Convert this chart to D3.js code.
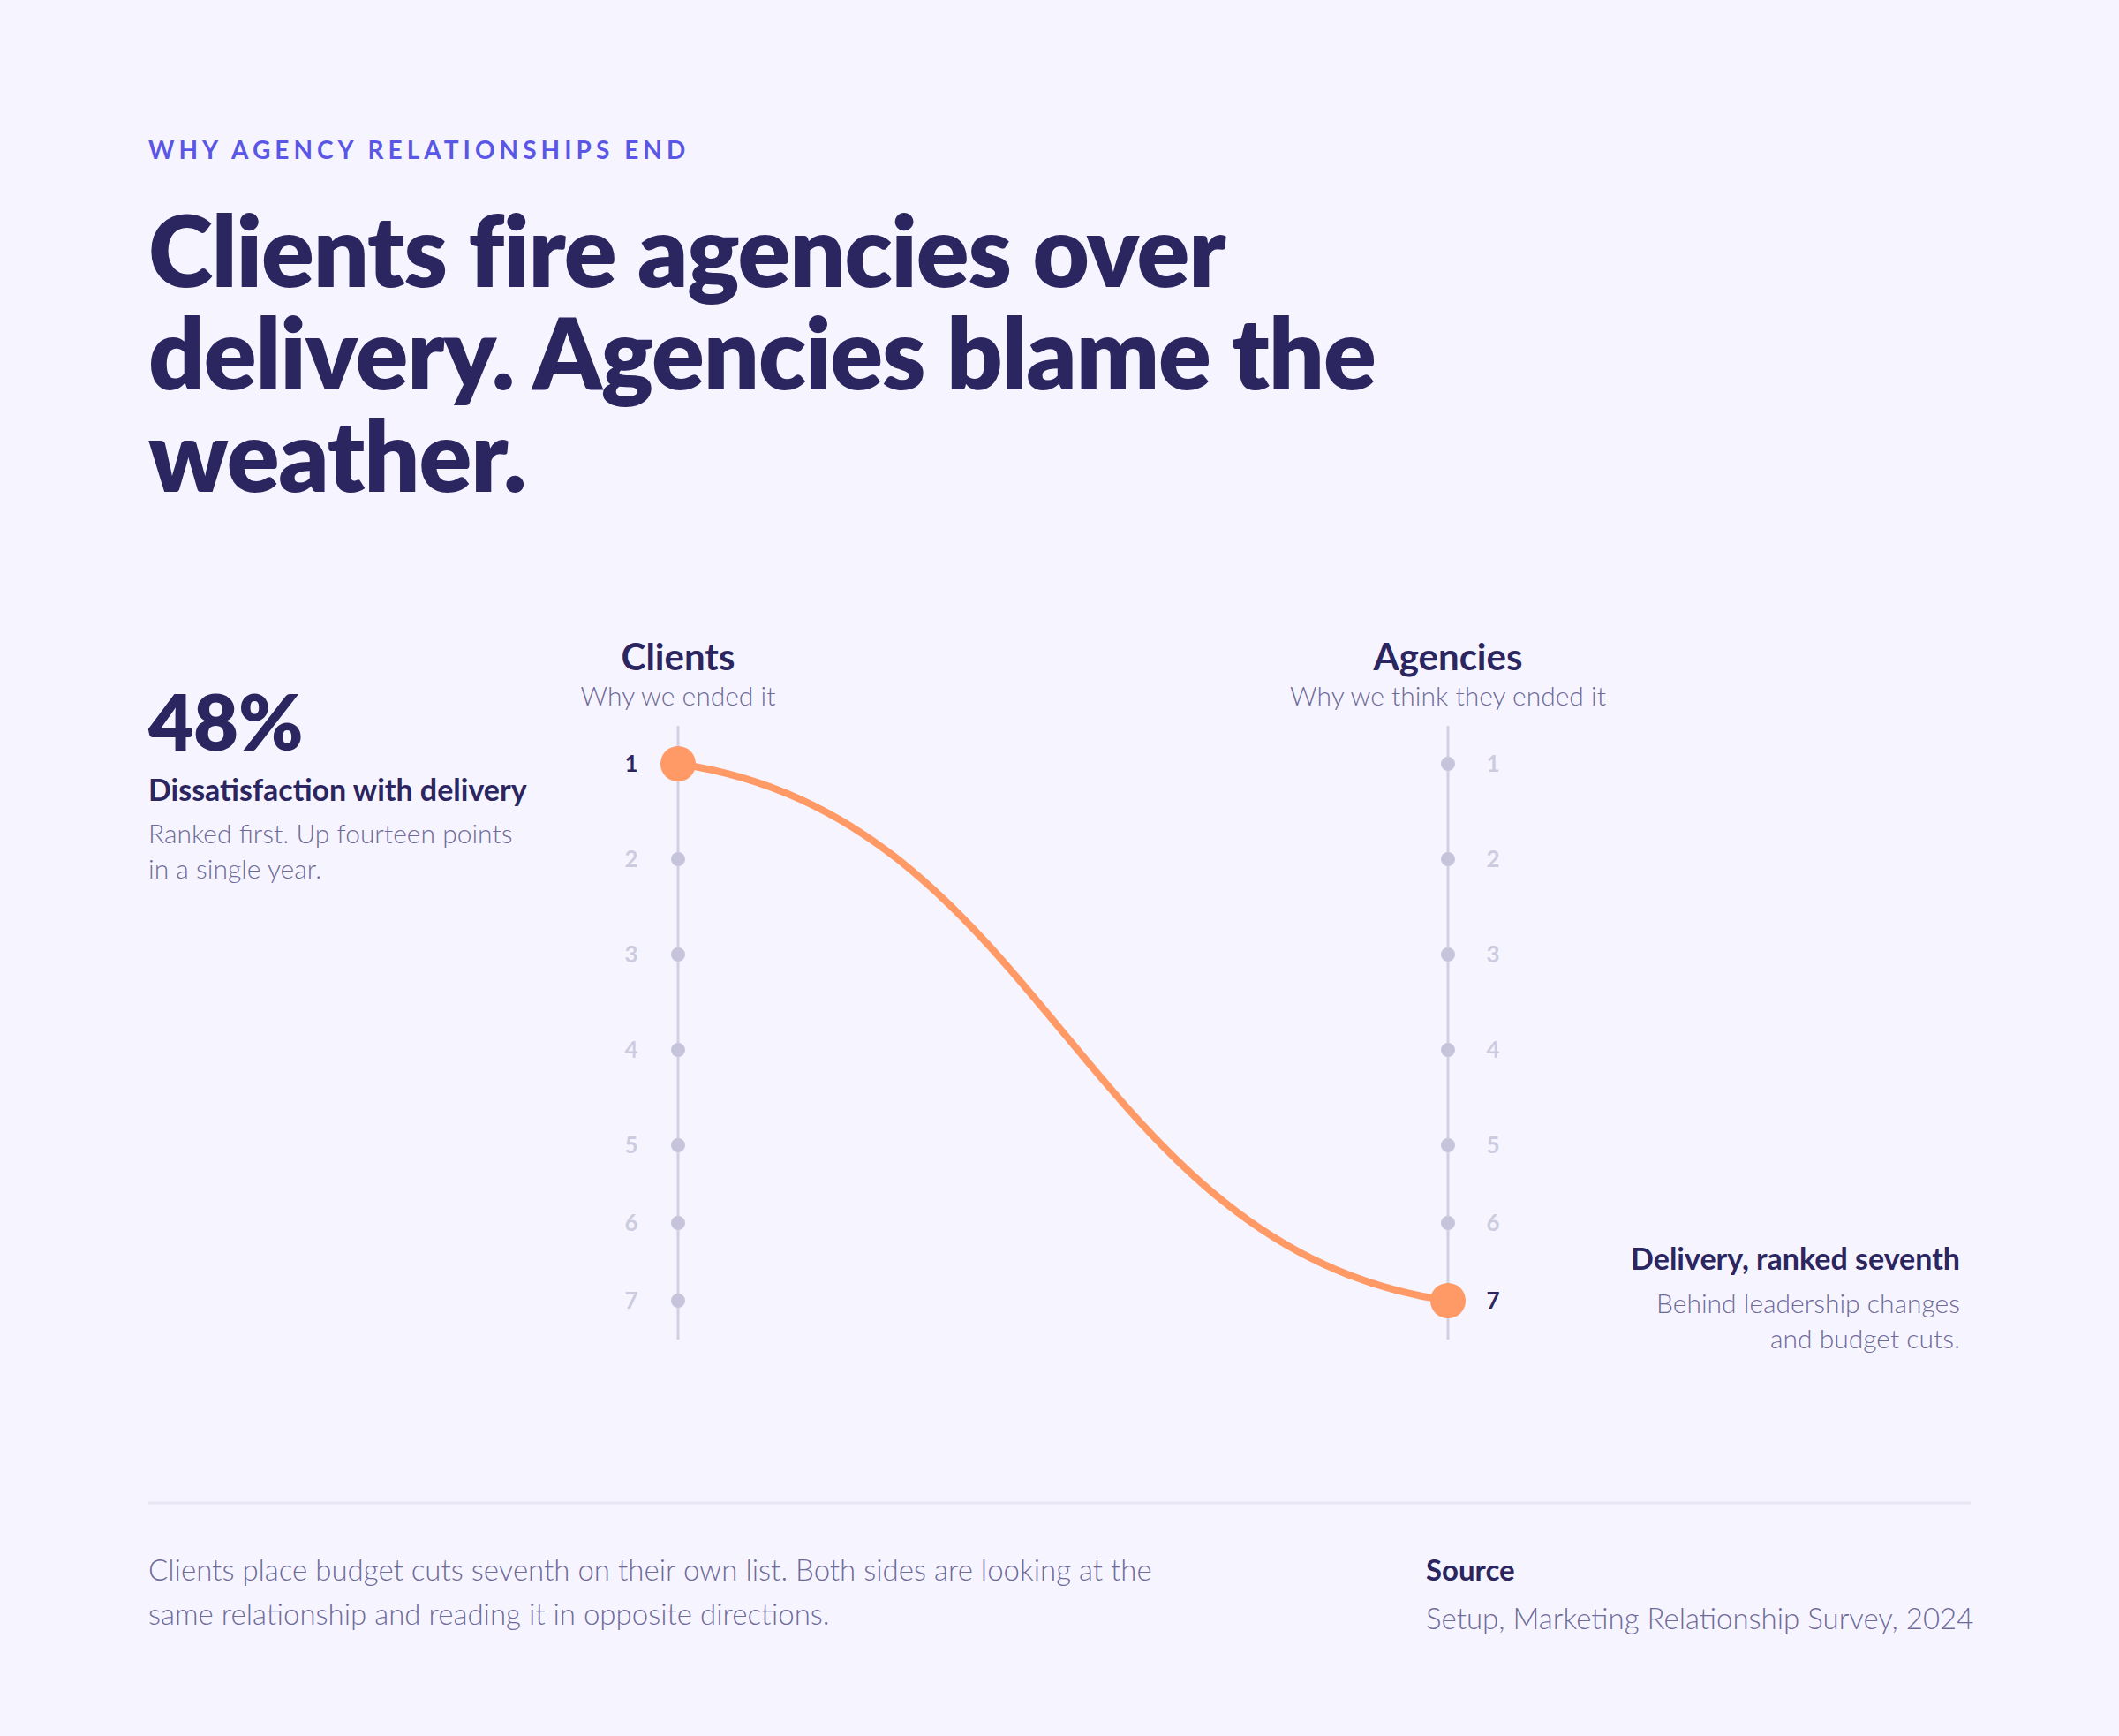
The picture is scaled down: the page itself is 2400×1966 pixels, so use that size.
<!DOCTYPE html>
<html>
<head>
<meta charset="utf-8">
<script src="https://cdn.jsdelivr.net/npm/d3@7"></script>
<style>
  body { margin: 0; background: #f6f5ff; }
  svg { display: block; font-family: Lato, 'Noto Sans', sans-serif; }
</style>
</head>
<body>
<svg id="chart" width="2400" height="1966"></svg>
<script>
const kicker = 'WHY AGENCY RELATIONSHIPS END';
const titleLines = ['Clients fire agencies over', 'delivery. Agencies blame the', 'weather.'];
const sides = ['Clients', 'Agencies'];
const sideNotes = ['Why we ended it', 'Why we think they ended it'];
const ranks = [1, 2, 3, 4, 5, 6, 7];
const deliveryRanks = [1, 7]; // where "delivery" sits on each side's list
const statValue = '48%';
const statLabel = 'Dissatisfaction with delivery';
const statNote = ['Ranked first. Up fourteen points', 'in a single year.'];
const endLabel = 'Delivery, ranked seventh';
const endNote = ['Behind leadership changes', 'and budget cuts.'];
const footNote = ['Clients place budget cuts seventh on their own list. Both sides are looking at the',
  'same relationship and reading it in opposite directions.'];
const sourceLabel = 'Source';
const sourceText = 'Setup, Marketing Relationship Survey, 2024';

const dark = '#2b2560';
const muted = '#6f6b99';
const faint = '#cdcbe0';
const orange = '#ff9966';
const left = 168;

const svg = d3.select('#chart');

svg.append('rect')
  .attr('width', 2400)
  .attr('height', 1966)
  .attr('fill', '#f6f5ff');

// header
svg.append('text')
  .text(kicker)
  .attr('x', left)
  .attr('y', 180)
  .attr('fill', '#5b57e6')
  .style('font-size', '28px')
  .style('font-weight', 700)
  .style('letter-spacing', '0.18em');

svg.append('g')
  .selectAll('text')
  .data(titleLines)
  .enter()
  .append('text')
  .text((d) => d)
  .attr('x', left)
  .attr('y', (d, i) => 325 + i * 116)
  .attr('fill', dark)
  .style('font-size', '111px')
  .style('font-weight', 800)
  .style('letter-spacing', '-0.01em');

// scales
const xscale = d3.scalePoint()
  .domain(sides)
  .range([768, 1640]);

const yscale = d3.scaleLinear()
  .domain([1, 5, 7])
  .range([865, 1297, 1473]);

// column heads
const heads = svg.append('g');
heads.selectAll('text.head')
  .data(sides)
  .enter()
  .append('text')
  .attr('class', 'head')
  .text((d) => d)
  .attr('x', (d) => xscale(d))
  .attr('y', 759)
  .attr('text-anchor', 'middle')
  .attr('fill', dark)
  .style('font-size', '42px')
  .style('font-weight', 700);

heads.selectAll('text.sub')
  .data(sides)
  .enter()
  .append('text')
  .attr('class', 'sub')
  .text((d, i) => sideNotes[i])
  .attr('x', (d) => xscale(d))
  .attr('y', 799)
  .attr('text-anchor', 'middle')
  .attr('fill', muted)
  .style('font-size', '30px')
  .style('font-weight', 300);

// axes
const axes = svg.append('g')
  .selectAll('g')
  .data(sides)
  .enter()
  .append('g')
  .attr('transform', (d) => `translate(${xscale(d)}, 0)`);

axes.append('line')
  .attr('y1', yscale(1) - 43)
  .attr('y2', yscale(7) + 44)
  .attr('stroke', '#d2d0e4')
  .attr('stroke-width', 3);

axes.selectAll('circle')
  .data(ranks)
  .enter()
  .append('circle')
  .attr('cy', (d) => yscale(d))
  .attr('r', 8)
  .attr('fill', '#c6c4da');

axes.selectAll('text')
  .data((side, si) => ranks.map((r) => ({ r, si, hit: r === deliveryRanks[si] })))
  .enter()
  .append('text')
  .text((d) => d.r)
  .attr('x', (d) => (d.si === 0 ? -53 : 51))
  .attr('y', (d) => yscale(d.r) + 9)
  .attr('text-anchor', 'middle')
  .attr('fill', (d) => (d.hit ? dark : faint))
  .style('font-size', '26px')
  .style('font-weight', 700);

// the delivery link
const x0 = xscale(sides[0]);
const x1 = xscale(sides[1]);
const y0 = yscale(deliveryRanks[0]);
const y1 = yscale(deliveryRanks[1]);
const link = d3.path();
link.moveTo(x0, y0);
link.bezierCurveTo(x0 + (x1 - x0) * 0.48, y0 + (y1 - y0) * 0.1,
  x1 - (x1 - x0) * 0.48, y1 - (y1 - y0) * 0.1, x1, y1);

svg.append('path')
  .attr('d', link.toString())
  .attr('fill', 'none')
  .attr('stroke', orange)
  .attr('stroke-width', 8)
  .attr('stroke-linecap', 'round');

svg.append('g')
  .selectAll('circle')
  .data(sides)
  .enter()
  .append('circle')
  .attr('cx', (d) => xscale(d))
  .attr('cy', (d, i) => yscale(deliveryRanks[i]))
  .attr('r', 20)
  .attr('fill', orange);

// left stat block
const stat = svg.append('g');
stat.append('text')
  .text(statValue)
  .attr('x', left)
  .attr('y', 850)
  .attr('fill', dark)
  .style('font-size', '88px')
  .style('font-weight', 800);
stat.append('text')
  .text(statLabel)
  .attr('x', left)
  .attr('y', 907)
  .attr('fill', dark)
  .style('font-size', '34px')
  .style('font-weight', 700);
stat.selectAll('text.note')
  .data(statNote)
  .enter()
  .append('text')
  .attr('class', 'note')
  .text((d) => d)
  .attr('x', left)
  .attr('y', (d, i) => 955 + i * 40)
  .attr('fill', muted)
  .style('font-size', '30px')
  .style('font-weight', 300);

// right annotation
const endX = 2220;
const ann = svg.append('g');
ann.append('text')
  .text(endLabel)
  .attr('x', endX)
  .attr('y', 1438)
  .attr('text-anchor', 'end')
  .attr('fill', dark)
  .style('font-size', '34px')
  .style('font-weight', 700);
ann.selectAll('text.note')
  .data(endNote)
  .enter()
  .append('text')
  .attr('class', 'note')
  .text((d) => d)
  .attr('x', endX)
  .attr('y', (d, i) => 1487 + i * 40)
  .attr('text-anchor', 'end')
  .attr('fill', muted)
  .style('font-size', '30px')
  .style('font-weight', 300);

// footer
svg.append('line')
  .attr('x1', left)
  .attr('x2', 2232)
  .attr('y1', 1702)
  .attr('y2', 1702)
  .attr('stroke', '#e8e6f5')
  .attr('stroke-width', 3);

svg.append('g')
  .selectAll('text')
  .data(footNote)
  .enter()
  .append('text')
  .text((d) => d)
  .attr('x', left)
  .attr('y', (d, i) => 1790 + i * 50)
  .attr('fill', muted)
  .style('font-size', '33px')
  .style('font-weight', 300);

svg.append('text')
  .text(sourceLabel)
  .attr('x', 1615)
  .attr('y', 1790)
  .attr('fill', dark)
  .style('font-size', '33px')
  .style('font-weight', 700);

svg.append('text')
  .text(sourceText)
  .attr('x', 1615)
  .attr('y', 1845)
  .attr('fill', muted)
  .style('font-size', '33px')
  .style('font-weight', 300);
</script>
</body>
</html>
